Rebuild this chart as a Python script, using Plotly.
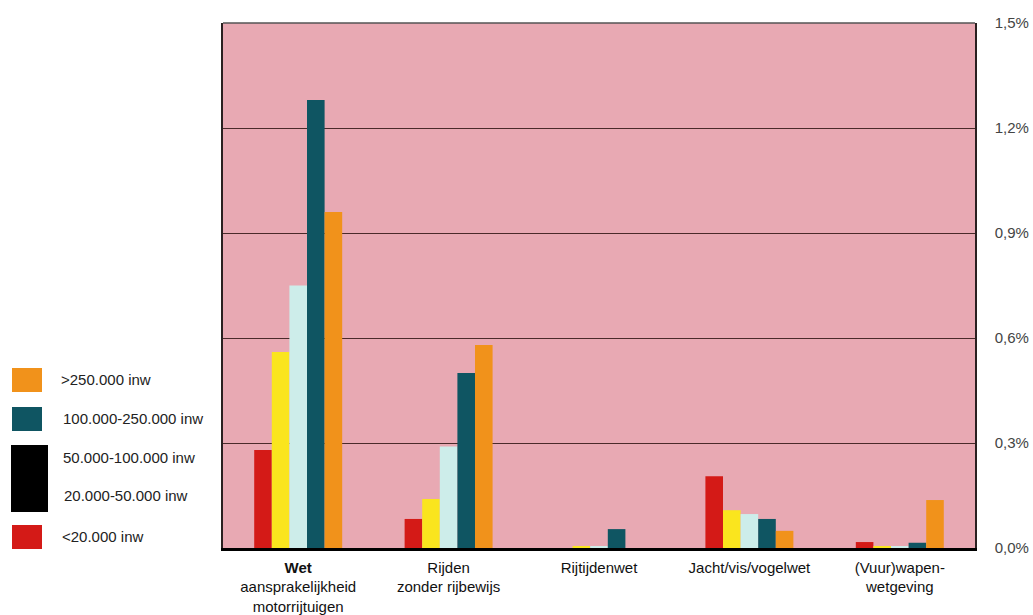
import plotly.graph_objects as go

categories = ["<b>Wet</b><br>aansprakelijkheid<br>motorrijtuigen",
              "Rijden<br>zonder rijbewijs",
              "Rijtijdenwet",
              "Jacht/vis/vogelwet",
              "(Vuur)wapen-<br>wetgeving"]

series_names = ["<20.000 inw", "20.000-50.000 inw", "50.000-100.000 inw",
                "100.000-250.000 inw", ">250.000 inw"]
lt20k = [0.28, 0.083, 0.0, 0.205, 0.017]
k20_50 = [0.56, 0.14, 0.004, 0.108, 0.005]
k50_100 = [0.75, 0.29, 0.003, 0.097, 0.004]
k100_250 = [1.28, 0.50, 0.054, 0.083, 0.015]
gt250k = [0.96, 0.58, 0.0, 0.049, 0.137]
series_values = [lt20k, k20_50, k50_100, k100_250, gt250k]
series_colors = ["#D41A17", "#FAE51E", "#CDEDEA", "#0F5562", "#F1921B"]

tick_vals = [0, 0.3, 0.6, 0.9, 1.2, 1.5]
tick_text = ["0,0%", "0,3%", "0,6%", "0,9%", "1,2%", "1,5%"]

legend_labels = [">250.000 inw", "100.000-250.000 inw", "50.000-100.000 inw",
                 "20.000-50.000 inw", "<20.000 inw"]

W, H = 1033, 615
L, R, T, B = 223, 975, 23, 548

def px(x):
    return (x - L) / (R - L)

def py(y):
    return (B - y) / (B - T)

fig = go.Figure()
for name, vals, col in zip(series_names, series_values, series_colors):
    fig.add_trace(go.Bar(x=categories, y=vals, name=name, marker_color=col,
                         marker_line_width=0, showlegend=False))

shapes = []
annotations = []
# legend swatches (manual, as in the original scan)
swatches = [
    (12, 368, 42, 392, "#F1921B"),
    (12, 407, 42, 431, "#0F5562"),
    (11, 445, 48, 512, "#000000"),
    (12, 525, 42, 549, "#D41A17"),
]
for x0, y0, x1, y1, c in swatches:
    shapes.append(dict(type="rect", xref="paper", yref="paper",
                       x0=px(x0), x1=px(x1), y0=py(y1), y1=py(y0),
                       fillcolor=c, line_width=0, layer="above"))
label_y = [380, 419, 457, 495, 536]
label_x = [59, 61, 61, 62, 60]
for lab, xx, yy in zip(legend_labels, label_x, label_y):
    annotations.append(dict(text=lab.replace("<", "&lt;").replace(">", "&gt;"),
                            xref="paper", yref="paper",
                            x=px(xx), y=py(yy), xanchor="left", yanchor="middle",
                            showarrow=False, font=dict(size=15, color="#222")))
# top border
shapes.append(dict(type="line", xref="paper", yref="paper", x0=0, x1=1, y0=1, y1=1,
                   line=dict(color="#555555", width=1.5), layer="above"))

fig.update_layout(
    width=W, height=H,
    margin=dict(l=L, r=W - R, t=T, b=H - B, autoexpand=False),
    paper_bgcolor="white",
    plot_bgcolor="#E8A9B3",
    barmode="group",
    bargap=0.415,
    bargroupgap=0,
    font=dict(family="Liberation Sans, Arial, sans-serif", size=15, color="#222"),
    shapes=shapes,
    annotations=annotations,
    xaxis=dict(showline=True, linecolor="black", linewidth=2.5, showgrid=False,
               automargin=False,
               ticks="", ticklabelstandoff=4, tickfont=dict(size=15, color="#111")),
    yaxis=dict(range=[0, 1.5], side="right", tickvals=tick_vals, ticktext=tick_text,
               automargin=False,
               showgrid=True, gridcolor="#4A2A2A", gridwidth=1, zeroline=False,
               showline=True, mirror=True, linecolor="#2A2020", linewidth=1.5,
               ticks="", ticklabelstandoff=15,
               tickfont=dict(size=15, color="#444")),
)

fig.write_html("out.html")
